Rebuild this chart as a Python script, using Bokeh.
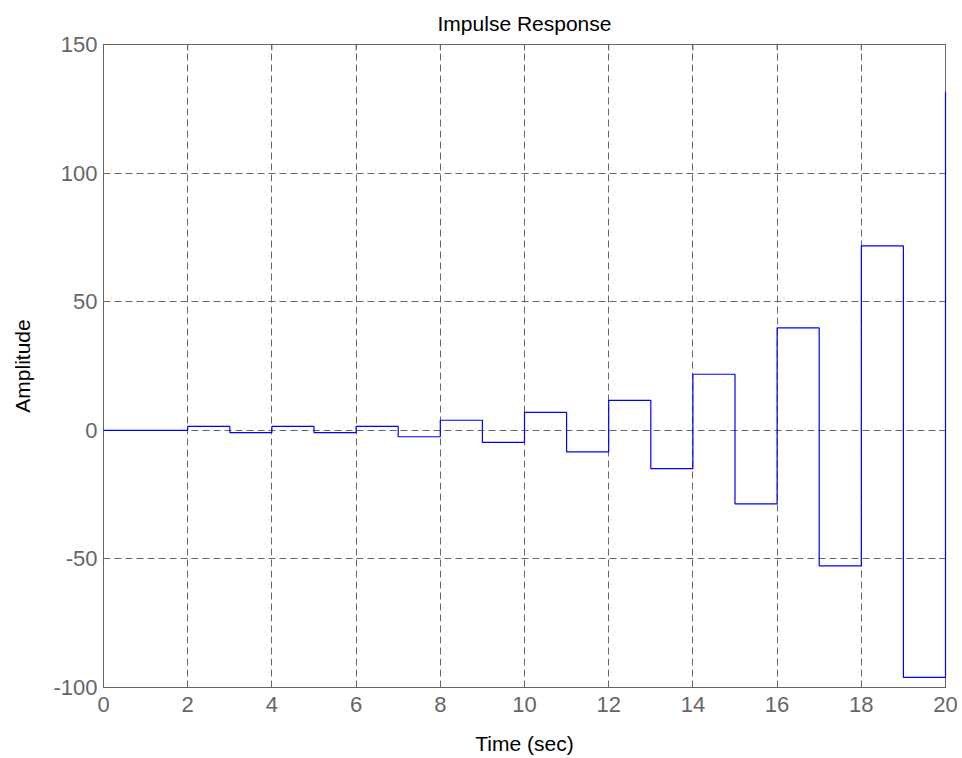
import math
from bokeh.plotting import figure
from bokeh.models import LinearAxis, Range1d, FixedTicker
from bokeh.embed import file_html
from bokeh.resources import INLINE

time_s = list(range(0, 21))
amplitude = [0, 0, 1.5, -0.9, 1.5, -0.9, 1.5, -2.5, 3.9, -4.7, 7.0, -8.4,
             11.6, -14.9, 21.8, -28.6, 39.8, -52.7, 71.7, -96.1, 131.6]
x_ticks = list(range(0, 21, 2))
y_ticks = [-100, -50, 0, 50, 100, 150]

FONT = "Liberation Sans"
GRAY = "#666666"

p = figure(width=962, height=758, output_backend="svg", toolbar_location=None,
           x_range=Range1d(0, 20), y_range=Range1d(-100, 150),
           min_border_left=103, min_border_right=17, min_border_top=44,
           min_border_bottom=71, x_axis_label="Time (sec)", y_axis_label="Amplitude")

p.title.text = "Impulse Response"
p.title.align = "center"
p.title.text_font = FONT
p.title.text_font_size = "21px"
p.title.text_font_style = "normal"
p.title.text_color = "black"
p.title.standoff = 19

r = p.step(time_s, amplitude, mode="after", line_color="#0000ff", line_width=1.2)
r.level = "overlay"

# inward tick marks along the top edge (mirror of the x axis)
p.ray(x=x_ticks, y=[y_ticks[-1]] * len(x_ticks), length=6, length_units="screen",
      angle=-math.pi / 2, line_color=GRAY, line_width=1)

for ax in (p.xaxis[0], p.yaxis[0]):
    ax.axis_line_color = GRAY
    ax.major_tick_line_color = GRAY
    ax.major_tick_in = 6
    ax.major_tick_out = 0
    ax.minor_tick_line_color = None
    ax.major_label_text_font = FONT
    ax.major_label_text_font_size = "22px"
    ax.major_label_text_color = GRAY
    ax.axis_label_text_font = FONT
    ax.axis_label_text_font_size = "21px"
    ax.axis_label_text_font_style = "normal"
    ax.axis_label_text_color = "black"

p.xaxis[0].ticker = FixedTicker(ticks=x_ticks)
p.yaxis[0].ticker = FixedTicker(ticks=y_ticks)
p.yaxis[0].major_label_overrides = {t: str(t) for t in y_ticks}
p.xaxis[0].major_label_overrides = {t: str(t) for t in x_ticks}
p.xaxis[0].major_label_standoff = 9
p.xaxis[0].axis_label_standoff = 17
p.yaxis[0].major_label_standoff = 6
p.yaxis[0].axis_label_standoff = 16

right = LinearAxis(ticker=FixedTicker(ticks=y_ticks))
right.axis_line_color = GRAY
right.major_tick_line_color = GRAY
right.major_tick_in = 6
right.major_tick_out = 0
right.minor_tick_line_color = None
right.major_label_text_font_size = "1px"
right.major_label_text_alpha = 0
right.major_label_standoff = 0
p.add_layout(right, "right")

p.xgrid.ticker = FixedTicker(ticks=x_ticks)
p.ygrid.ticker = FixedTicker(ticks=y_ticks)
for g in (p.xgrid[0], p.ygrid[0]):
    g.grid_line_color = GRAY
    g.grid_line_dash = "7 4"
    g.grid_line_width = 1

p.outline_line_color = GRAY
p.background_fill_color = "white"
p.border_fill_color = "white"

open("out.html", "w").write(file_html(p, INLINE))
